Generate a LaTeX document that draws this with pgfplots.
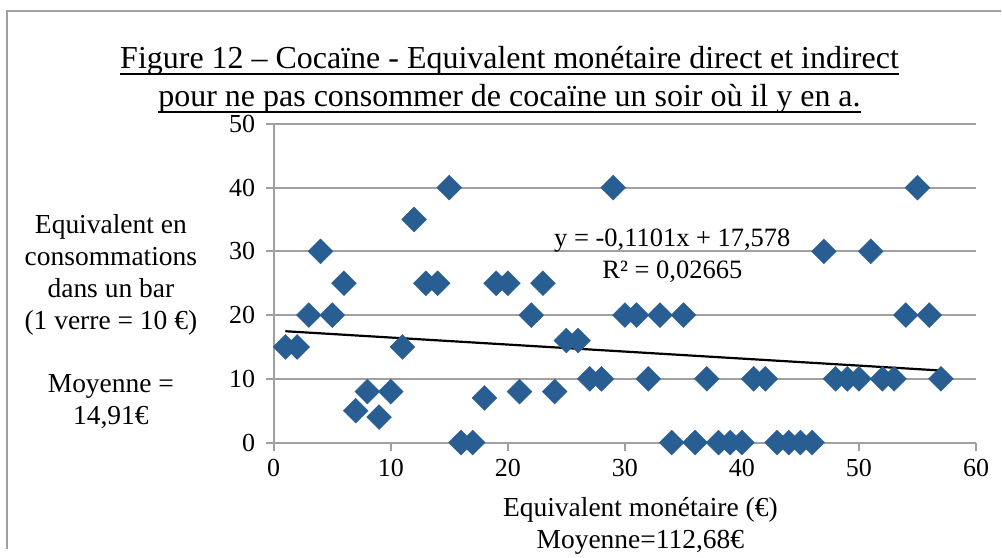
\documentclass[border=0pt]{standalone}
\usepackage{pgfplots}
\pgfplotsset{compat=1.18}
\usepackage{fontspec}
\setmainfont{Liberation Serif}
\definecolor{pts}{RGB}{41,94,146}
\definecolor{gridc}{RGB}{160,160,160}
\begin{document}
\begin{tikzpicture}[x=1pt,y=1pt]
\path (0,0) rectangle (1002,550);
\draw[gridc, line width=2pt] (7,0) -- (7,539) -- (1002,539);
\node[font=\fontsize{32}{36}\selectfont, inner sep=0pt, anchor=base] (t1) at (510,550-69) {Figure 12 – Cocaïne - Equivalent monétaire direct et indirect};
\node[font=\fontsize{32}{36}\selectfont, inner sep=0pt, anchor=base] (t2) at (510,550-107) {pour ne pas consommer de cocaïne un soir où il y en a.};
\draw[black, line width=1.8pt] ([yshift=-5pt]t1.base west) -- ([yshift=-5pt]t1.base east);
\draw[black, line width=1.8pt] ([yshift=-5pt]t2.base west) -- ([yshift=-5pt]t2.base east);
\node[font=\fontsize{27.5}{31.8}\selectfont, align=center] at (111,550-322) {Equivalent en\\consommations\\dans un bar\\(1 verre = 10 €)\\ \\Moyenne =\\14,91€};
\node[font=\fontsize{27.5}{32}\selectfont, align=center] at (641,550-526) {Equivalent monétaire (€)\\Moyenne=112,68€};
\begin{axis}[
  at={(274pt,107pt)}, anchor=origin,
  scale only axis, width=703pt, height=319pt,
  xmin=0, xmax=60, ymin=0, ymax=50,
  xtick={0,10,...,60}, ytick={0,10,...,50},
  separate axis lines,
  axis x line*=bottom, axis y line*=left,
  axis line style={gridc, line width=2pt},
  ymajorgrids, grid style={gridc, line width=2pt},
  tick style={gridc, line width=2pt},
  tick align=outside, major tick length=8pt,
  ticklabel style={font=\fontsize{26}{30}\selectfont, text=black},
  /pgf/number format/assume math mode=true,
  yticklabel style={xshift=-7pt},
  xticklabel style={yshift=-5pt},
]
\addplot[only marks, mark=square*, mark size=8.8pt, mark options={rotate=45, fill=pts, draw=pts}] coordinates {
(1,15) (2,15) (3,20) (4,30) (5,20) (6,25) (7,5) (8,8) (9,4) (10,8)
(11,15) (12,35) (13,25) (14,25) (15,40) (16,0) (17,0) (18,7) (19,25) (20,25)
(21,8) (22,20) (23,25) (24,8) (25,16) (26,16) (27,10) (28,10) (29,40) (30,20)
(31,20) (32,10) (33,20) (34,0) (35,20) (36,0) (37,10) (38,0) (39,0) (40,0)
(41,10) (42,10) (43,0) (44,0) (45,0) (46,0) (47,30) (48,10) (49,10) (50,10)
(51,30) (52,10) (53,10) (54,20) (55,40) (56,20) (57,10)
};
\addplot[black, line width=2.2pt, no marks] coordinates {(1,17.468) (57,11.302)};
\end{axis}
\node[font=\fontsize{26.5}{32}\selectfont, align=center] at (673,550-256) {y = -0,1101x + 17,578\\R² = 0,02665};
\end{tikzpicture}
\end{document}
